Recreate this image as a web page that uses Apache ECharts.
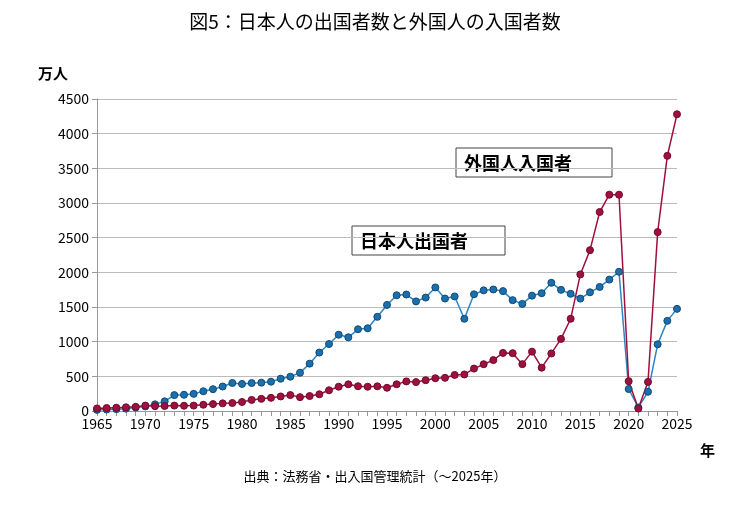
<!DOCTYPE html><html><head><meta charset="utf-8"><script src="https://cdn.jsdelivr.net/npm/echarts@6/dist/echarts.min.js"></script>
<style>body{margin:0;background:#fff}#c{width:750px;height:507px}</style></head><body><div id="c"></div><script>
const years=[];for(let y=1965;y<=2025;y++)years.push(y);
const japaneseOut=[16,21,27,34,49,66,96,139,229,234,247,285,315,353,404,391,403,409,423,466,495,552,683,843,966,1100,1063,1179,1193,1358,1530,1669,1680,1581,1636,1782,1622,1652,1330,1683,1740,1753,1729,1599,1545,1664,1699,1849,1747,1690,1621,1712,1789,1895,2008,317,51,277,962,1300,1473];
const foreignIn=[37,43,48,53,60,78,70,72,78,76,78,90,100,110,115,130,160,175,190,210,230,200,216,241,299,350,385,357,350,356,335,385,427,417,444,473,479,520,527,612,675,734,838,834,676,856,625,830,1040,1330,1970,2320,2870,3120,3120,430,35,420,2580,3680,4280];
const yTicks=[0,500,1000,1500,2000,2500,3000,3500,4000,4500];
const ff='"Noto Sans CJK JP","Noto Sans",sans-serif';
const ch=echarts.init(document.getElementById('c'));
const pair=a=>years.map((y,i)=>[y,a[i]]);
ch.setOption({
animation:false,
textStyle:{fontFamily:ff},
grid:{left:97,right:73,top:99,bottom:96},
xAxis:{type:'value',min:1965,max:2025,interval:5,
 axisLine:{lineStyle:{color:'#999'}},axisTick:{length:5,lineStyle:{color:'#999'}},
 minorTick:{show:true,splitNumber:5,length:5,lineStyle:{color:'#999'}},
 splitLine:{show:false},axisLabel:{color:'#000',fontSize:14,fontFamily:ff,margin:6,formatter:v=>String(v)}},
yAxis:{type:'value',min:0,max:4500,interval:500,
 axisLine:{show:true,lineStyle:{color:'#999'}},axisTick:{show:true,lineStyle:{color:'#999'}},
 splitLine:{lineStyle:{color:'#bbb'}},axisLabel:{color:'#000',fontSize:14,fontFamily:ff,formatter:v=>yTicks.includes(v)?String(v):''}},
series:[
{type:'line',data:pair(japaneseOut),symbol:'circle',symbolSize:7,itemStyle:{color:'#1d6fab',borderColor:'#0d4a7a',borderWidth:1},lineStyle:{color:'#2a86c4',width:1.5}},
{type:'line',data:pair(foreignIn),symbol:'circle',symbolSize:7,itemStyle:{color:'#a0103f',borderColor:'#700a2a',borderWidth:1},lineStyle:{color:'#a0103f',width:1.5}}
],
graphic:[
{type:'text',left:'center',top:12,style:{text:'図5：日本人の出国者数と外国人の入国者数',font:'19px '+ff,fill:'#000'}},
{type:'text',x:38,y:66,style:{text:'万人',font:'bold 15px '+ff,fill:'#000'}},
{type:'text',x:700,y:443,style:{text:'年',font:'bold 15px '+ff,fill:'#000'}},
{type:'text',left:'center',top:470,style:{text:'出典：法務省・出入国管理統計（～2025年）',font:'13px '+ff,fill:'#000'}},
{type:'rect',shape:{x:456,y:148,width:156,height:29},style:{fill:'#fff',stroke:'#444',lineWidth:1}},
{type:'text',x:464,y:163,style:{text:'外国人入国者',font:'bold 18px '+ff,fill:'#000',verticalAlign:'middle'}},
{type:'rect',shape:{x:352,y:226,width:153,height:29},style:{fill:'#fff',stroke:'#444',lineWidth:1}},
{type:'text',x:360,y:241,style:{text:'日本人出国者',font:'bold 18px '+ff,fill:'#000',verticalAlign:'middle'}}
]});
</script></body></html>
